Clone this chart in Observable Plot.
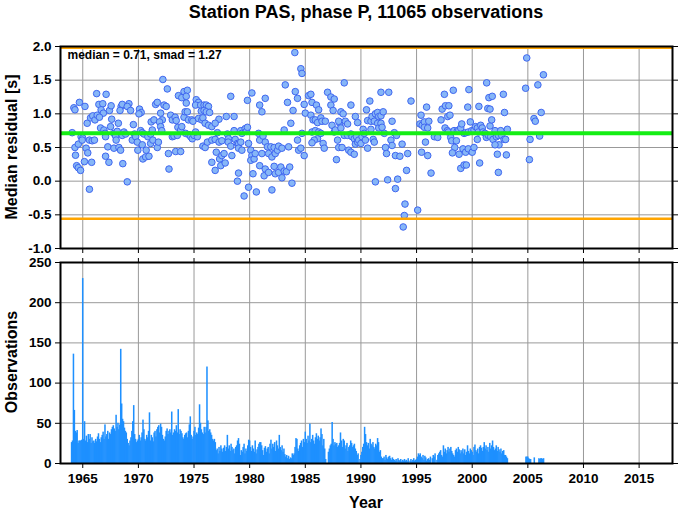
<!DOCTYPE html>
<html><head><meta charset="utf-8">
<script src="https://cdn.jsdelivr.net/npm/d3@7"></script>
<script src="https://cdn.jsdelivr.net/npm/@observablehq/plot@0.6"></script>
<style>
body{margin:0;background:#fff;}
#chart{position:relative;width:678px;height:511px;font-family:"Liberation Sans",Arial,sans-serif;font-weight:bold;color:#000;overflow:hidden;}
#chart svg{position:absolute;left:0;}
.lbl{position:absolute;white-space:nowrap;transform:translate(-50%,-50%);font-weight:bold;}
.rot{transform:translate(-50%,-50%) rotate(-90deg);}
</style></head><body><div id="chart"></div>
<script>
const titleText = "Station PAS, phase P, 11065 observations";
const statsText = "median = 0.71, smad = 1.27";
const yTitleTop = "Median residual [s]";
const yTitleBottom = "Observations";
const xTitle = "Year";
const median = 0.71, smad = 1.27;
const xDomain = [1963, 2018];
const xTicks = [1965, 1970, 1975, 1980, 1985, 1990, 1995, 2000, 2005, 2010, 2015];
const residualTicks = [-1, -0.5, 0, 0.5, 1, 1.5, 2];
const obsTicks = [0, 50, 100, 150, 200, 250];
const obsStartYear = 1964;
const monthlyObs = [
 26,28,136,66,40,38,41,25,28,28,28,29,
 230,30,52,28,34,26,36,30,36,25,32,27,
 28,25,30,27,33,37,30,26,32,35,39,30,
 48,33,36,40,30,38,36,42,45,47,43,40,
 60,45,50,42,48,142,74,55,52,44,40,38,
 30,25,22,28,32,40,52,72,36,30,26,28,
 30,35,28,32,38,54,42,30,28,35,32,40,
 63,28,35,32,27,38,40,33,42,45,47,38,
 49,45,35,30,28,33,40,43,36,40,42,38,
 64,35,38,42,40,47,38,67,36,42,40,37,
 32,30,35,37,38,32,40,48,58,35,30,33,
 40,45,35,38,36,44,73,50,42,38,36,45,
 38,45,120,53,40,42,38,35,30,28,30,26,
 16,18,12,20,15,22,18,14,19,22,15,20,
 35,18,22,15,24,20,16,18,12,20,22,28,
 31,24,10,16,14,20,24,12,18,15,22,29,
 28,20,15,22,18,14,28,12,17,20,24,26,
 26,22,16,10,19,21,14,18,20,12,24,29,
 18,24,20,26,15,28,22,18,35,20,16,22,
 14,18,11,8,10,6,9,5,7,6,12,10,
 12,20,31,30,18,15,22,25,28,20,30,26,
 39,30,25,34,28,49,26,30,35,28,24,32,
 37,30,34,28,32,43,36,22,30,18,5,0,
 0,14,18,22,24,51,30,22,26,24,25,20,
 22,25,38,28,20,30,28,18,22,25,15,20,
 22,28,25,20,22,24,18,15,10,12,0,5,
 10,14,20,24,45,36,26,22,25,18,30,24,
 22,26,20,18,24,22,31,26,14,16,8,6,
 6,8,4,10,7,5,8,9,6,4,7,5,
 4,3,5,2,6,4,3,5,2,4,3,5,
 3,4,2,6,0,3,5,2,4,6,3,4,
 5,8,12,10,12,8,6,10,4,9,7,3,
 5,6,4,8,0,6,10,8,12,0,4,10,
 12,14,16,10,8,22,14,18,12,16,20,14,
 18,20,15,12,10,8,16,18,14,20,17,12,
 16,14,18,12,17,10,14,22,15,12,18,16,
 14,10,20,23,16,14,18,12,20,22,19,15,
 20,26,18,22,16,20,14,25,18,22,28,20,
 16,18,22,15,20,17,14,18,12,15,16,10,
 10,8,6,0,0,0,0,0,0,0,0,0,
 0,0,0,0,0,0,0,0,0,0,8,8,
 8,6,5,5,0,0,0,7,0,0,0,0,
 6,5,6,6,5,6,0,0,0,0,0,0
];
const residualPoints = [
[1964.2,1.09],[1964.3,1.06],[1964.7,1.17],[1965.2,1.11],[1964.05,0.72],[1964.3,0.50],[1964.6,0.55],[1964.35,0.385],[1964.45,0.23],[1964.6,0.20],[1964.8,0.16],[1964.85,0.66],[1965.0,0.64],[1964.95,0.61],[1965.15,0.29],[1965.3,0.49],[1965.45,0.42],[1965.6,-0.12],[1965.4,0.86],[1965.7,0.94],[1965.9,0.97],[1966.1,0.91],[1965.6,0.61],[1965.85,0.60],[1966.05,0.61],[1965.8,0.28],[1966.25,1.30],[1967.1,1.29],[1966.45,1.14],[1966.8,1.15],[1966.65,1.06],[1966.85,1.01],[1966.3,0.98],[1966.5,0.95],[1966.6,0.79],[1966.9,0.76],[1967.0,0.71],[1967.05,0.66],[1967.25,0.51],[1967.05,0.37],[1967.35,0.28],[1967.4,1.05],[1967.55,1.12],[1967.6,0.92],[1967.5,0.81],[1967.8,0.71],[1968.1,0.74],[1967.95,0.67],[1968.0,0.61],[1967.8,0.49],[1968.25,0.50],[1968.4,0.46],[1968.2,0.86],[1968.45,1.11],[1968.55,1.14],[1968.35,1.05],[1968.7,0.73],[1968.55,0.68],[1968.85,0.70],[1968.6,0.26],[1969.0,-0.01],[1969.15,1.15],[1969.0,1.11],[1969.3,1.05],[1969.55,0.84],[1969.65,0.70],[1969.45,0.61],[1969.75,0.66],[1969.9,0.58],[1969.95,0.46],[1970.1,1.07],[1970.25,1.02],[1970.05,1.00],[1970.2,0.75],[1970.35,0.72],[1970.5,0.70],[1970.35,0.54],[1970.7,0.46],[1970.4,0.33],[1970.65,0.36],[1970.95,0.37],[1970.85,0.66],[1971.1,0.70],[1971.25,0.76],[1971.15,0.88],[1971.4,0.91],[1971.1,0.56],[1971.3,0.61],[1971.7,0.50],[1971.8,0.58],[1971.55,1.14],[1971.7,1.17],[1972.0,1.01],[1972.15,0.91],[1972.3,1.13],[1972.5,1.11],[1972.2,1.51],[1972.6,1.37],[1971.9,0.88],[1972.0,0.81],[1972.1,0.75],[1972.7,0.41],[1972.75,0.18],[1972.9,0.98],[1973.05,0.91],[1973.3,0.95],[1973.4,0.90],[1973.55,0.80],[1973.05,0.66],[1973.2,0.67],[1973.5,0.68],[1973.35,0.44],[1973.8,0.44],[1973.6,1.27],[1973.9,1.24],[1974.1,1.33],[1973.8,0.76],[1973.9,0.81],[1974.1,0.95],[1974.2,1.03],
[1974.4,1.35],[1974.3,1.26],[1974.3,1.16],[1974.4,1.03],[1974.5,0.91],[1974.8,0.91],[1974.9,0.89],[1974.24,0.71],[1974.54,0.69],[1974.7,0.66],[1974.84,0.63],[1975.0,0.68],[1975.3,0.66],[1975.14,0.73],[1975.2,1.21],[1975.4,1.17],[1975.14,1.13],[1975.6,1.13],[1975.9,1.13],[1976.1,1.13],[1976.3,1.11],[1975.65,1.04],[1975.9,1.05],[1976.1,1.03],[1976.4,1.02],[1975.4,0.93],[1975.7,0.91],[1975.8,0.94],[1976.0,0.86],[1976.3,0.83],[1976.6,0.81],[1975.8,0.52],[1976.0,0.50],[1976.2,0.58],[1976.6,0.61],[1976.9,0.62],[1977.1,0.72],[1977.25,0.58],[1977.5,0.60],[1976.6,0.28],[1976.9,0.16],[1977.0,0.43],[1977.3,0.33],[1977.4,0.23],[1977.5,0.38],[1977.7,0.41],[1977.8,0.27],[1977.24,0.92],[1976.9,0.86],[1977.9,0.96],[1978.6,0.96],[1978.0,0.70],[1978.1,0.63],[1978.07,0.58],[1978.3,0.52],[1978.4,0.38],[1978.6,0.75],[1978.7,0.62],[1978.9,0.56],[1979.0,0.55],[1979.2,0.58],[1979.0,0.49],[1978.3,1.26],[1979.0,0.12],[1978.9,0.0],[1979.3,0.46],[1979.2,0.75],[1979.3,0.71],[1979.6,0.78],[1979.7,0.74],[1979.8,0.80],[1979.5,-0.22],[1979.9,-0.09],[1980.6,-0.16],[1979.8,1.20],[1980.2,1.31],[1980.9,1.13],[1981.1,1.03],[1981.4,1.23],[1979.9,0.56],[1980.1,0.46],[1980.2,0.38],[1980.1,0.31],[1980.4,0.33],[1980.5,0.41],[1980.8,0.71],[1980.9,0.61],[1981.1,0.41],[1981.2,0.67],[1981.4,0.58],[1981.6,0.51],[1981.7,0.41],[1981.9,0.51],[1982.0,0.36],[1982.2,0.50],[1980.3,0.11],[1980.9,0.23],[1981.4,0.18],[1981.3,0.08],[1981.7,0.13],[1982.0,-0.13],[1982.3,0.41],[1982.5,0.46],[1982.6,0.52],[1982.9,0.49],[1983.5,0.51],[1982.2,0.22],[1982.3,0.11],[1982.6,0.13],[1982.8,0.21],[1982.9,0.05],[1983.1,0.15],[1983.3,0.14],[1983.6,0.21],[1983.8,-0.03],[1983.1,0.76],[1983.7,0.86],[1983.2,1.43],[1983.4,1.17],[1983.9,1.05],[1984.1,1.33],[1984.3,1.23],[1984.06,1.91],[1984.6,1.67],[1984.7,1.60],[1984.3,0.61],[1984.4,0.46],[1984.6,0.49],[1984.9,0.38],[1984.7,0.71],[1984.9,1.14],[1985.0,1.01],[1985.3,1.27],[1985.5,0.98],
[1985.5,1.29],[1985.6,1.17],[1986.0,1.13],[1986.2,1.06],[1985.7,0.91],[1985.9,0.91],[1986.1,0.87],[1986.4,0.94],[1986.5,0.89],[1986.8,0.89],[1985.6,0.73],[1985.9,0.75],[1986.2,0.73],[1986.1,0.63],[1985.8,0.61],[1985.6,0.57],[1986.6,0.56],[1986.7,0.49],[1986.4,0.71],[1987.0,1.32],[1987.3,1.25],[1987.6,1.22],[1987.3,1.13],[1987.5,1.05],[1988.2,1.03],[1988.4,1.00],[1988.5,1.46],[1987.4,0.83],[1987.6,0.73],[1987.7,0.76],[1987.9,0.61],[1988.1,0.86],[1988.0,0.89],[1988.2,0.79],[1988.6,0.89],[1988.8,0.85],[1987.8,0.32],[1988.0,0.50],[1988.3,0.50],[1988.5,0.68],[1988.9,0.46],[1989.1,0.43],[1989.4,0.40],[1988.8,0.68],[1989.1,1.13],[1989.5,0.96],[1989.7,0.87],[1989.1,0.70],[1989.2,0.66],[1989.4,0.63],[1989.6,0.66],[1989.5,0.55],[1989.7,0.58],[1989.8,0.61],[1990.0,0.56],[1990.1,0.66],[1990.2,0.77],[1990.3,0.71],[1990.4,0.61],[1990.6,0.49],[1990.5,1.06],[1990.8,1.19],[1990.6,0.90],[1990.9,0.89],[1991.0,0.96],[1991.2,0.89],[1991.3,1.00],[1991.5,1.02],[1991.6,0.96],[1991.8,0.97],[1992.0,1.03],[1991.8,1.32],[1992.5,1.32],[1990.9,0.77],[1991.1,0.62],[1991.2,0.58],[1991.5,0.86],[1991.6,0.79],[1991.8,0.86],[1991.9,0.80],[1992.1,0.71],[1991.3,-0.01],[1992.2,0.50],[1992.3,0.41],[1992.4,0.02],[1992.7,0.61],[1992.8,0.89],[1992.8,0.53],[1993.0,0.72],[1993.1,0.38],[1993.2,0.68],[1993.1,-0.11],[1993.3,0.03],[1993.5,0.37],[1993.7,0.55],[1994.2,0.41],[1994.1,0.16],[1993.96,-0.34],[1993.9,-0.51],[1993.8,-0.68],[1994.5,1.19],[1995.1,-0.43],[1995.4,0.98],[1995.3,0.85],[1995.5,0.83],[1995.7,0.88],[1995.7,0.80],[1995.9,1.10],[1996.0,0.79],[1996.1,0.89],[1995.45,0.43],[1995.8,0.58],[1996.0,0.38],[1996.3,0.12],[1996.6,0.66],
[1997.5,1.29],[1998.3,1.35],[1999.7,1.36],[2001.3,1.46],[2001.5,1.24],[2001.8,1.26],[2002.8,1.29],[1997.3,1.07],[1997.6,1.12],[1997.9,1.12],[1997.8,0.96],[1998.0,0.98],[1997.2,0.91],[1999.6,1.10],[2000.6,1.11],[2001.4,1.08],[2001.6,1.07],[2002.9,1.02],
[1996.9,0.65],[1997.56,0.79],[1997.77,0.75],[1997.86,0.73],[1998.07,0.65],[1998.16,0.60],[1998.37,0.75],[1998.58,0.60],[1998.67,0.75],[1998.8,0.76],[1998.97,0.79],[1999.06,0.85],[1999.27,0.71],[1999.42,0.72],[1999.65,0.73],[1999.83,0.88],[1999.95,0.75],[2000.16,0.76],[2000.3,0.81],[2000.46,0.79],[2000.55,0.73],[2000.76,0.83],[2000.9,0.79],[2000.97,0.73],[2001.15,0.71],[2001.27,0.65],[2001.45,0.68],[2001.6,0.82],[2001.75,0.91],[2001.66,0.66],[2001.87,0.62],[2002.05,0.75],[2002.17,0.66],[2002.35,0.68],[2002.56,0.75],[2002.65,0.68],[2002.86,0.62],[2003.0,0.62],[2003.16,0.77],
[1998.43,0.50],[1998.22,0.42],[1998.82,0.40],[1999.17,0.48],[1999.41,0.43],[1999.65,0.48],[2000.0,0.43],[2000.16,0.50],[2000.46,0.62],[2000.67,0.27],[2002.26,0.40],[2003.07,0.39],[2002.41,0.54],[2002.05,0.54],[1998.97,0.19],[1999.27,0.24],[1999.47,0.24],[2002.35,0.13],
[2004.9,1.83],[2006.4,1.58],[2004.8,1.38],[2005.9,1.43],[2006.2,1.02],[2005.55,0.93],[2005.67,0.89],[2006.06,0.67],[2005.2,0.62],[2005.14,0.32]
];

const W = 678, ML = 60, MR = 6;
const baseStyle = {fontFamily: "'Liberation Sans', Arial, sans-serif", fontSize: "13.5px", fontWeight: "bold", color: "#000", background: "transparent", overflow: "visible"};
const gridStyle = {stroke: "#999", strokeOpacity: 1, strokeWidth: 1};
const blank = () => "";

const topPlot = Plot.plot({
  width: W, height: 256, marginLeft: ML, marginRight: MR, marginTop: 46, marginBottom: 8,
  style: baseStyle,
  x: {domain: xDomain}, y: {domain: [-1, 2]},
  marks: [
    Plot.gridX(xTicks, gridStyle),
    Plot.gridY(residualTicks, gridStyle),
    Plot.dot(residualPoints, {x: d => d[0], y: d => d[1], r: 3.3, fill: "#86b6f7", stroke: "#3f66f0", strokeWidth: 1}),
    Plot.ruleY([median + smad, median - smad], {stroke: "#ffa500", strokeWidth: 2.5}),
    Plot.ruleY([median], {stroke: "#14ee14", strokeWidth: 4}),
    Plot.axisY(residualTicks, {anchor: "left", tickSize: 5, tickPadding: 4, tickFormat: d => d.toFixed(1), label: null}),
    Plot.axisY(residualTicks, {anchor: "right", tickSize: 5, tickFormat: blank, label: null}),
    Plot.axisX(xTicks, {anchor: "bottom", tickSize: 5, tickFormat: blank, label: null}),
    Plot.text([statsText], {frameAnchor: "top-left", dx: 7, dy: 4, lineAnchor: "top", textAnchor: "start", fontSize: 12, fontWeight: "bold"}),
    Plot.frame({stroke: "#000", strokeWidth: 2})
  ]
});

const bars = monthlyObs.map((n, i) => ({x1: obsStartYear + i / 12, x2: obsStartYear + (i + 1) / 12, n}));
const bottomPlot = Plot.plot({
  width: W, height: 256, marginLeft: ML, marginRight: MR, marginTop: 7, marginBottom: 48,
  style: baseStyle,
  x: {domain: xDomain}, y: {domain: [0, 250]},
  marks: [
    Plot.gridX(xTicks, gridStyle),
    Plot.gridY(obsTicks, gridStyle),
    Plot.rect(bars, {x1: "x1", x2: "x2", y1: 0, y2: "n", fill: "#1e90ff", insetLeft: -0.3, insetRight: -0.3}),
    Plot.axisY(obsTicks, {anchor: "left", tickSize: 5, tickPadding: 4, label: null}),
    Plot.axisY(obsTicks, {anchor: "right", tickSize: 5, tickFormat: blank, label: null}),
    Plot.axisX(xTicks, {anchor: "top", tickSize: 5, tickFormat: blank, label: null}),
    Plot.axisX(xTicks, {anchor: "bottom", tickSize: 5, tickPadding: 5, tickFormat: d => String(d), label: null}),
    Plot.frame({stroke: "#000", strokeWidth: 2})
  ]
});

const chart = document.getElementById("chart");
topPlot.style.top = "0px";
bottomPlot.style.top = "255px";
chart.appendChild(topPlot);
chart.appendChild(bottomPlot);

function addLabel(text, x, y, size, rotate) {
  const d = document.createElement("div");
  d.className = "lbl" + (rotate ? " rot" : "");
  d.textContent = text;
  d.style.left = x + "px";
  d.style.top = y + "px";
  d.style.fontSize = size + "px";
  chart.appendChild(d);
}
addLabel(titleText, 366, 12, 18, false);
addLabel(yTitleTop, 12, 147, 16, true);
addLabel(yTitleBottom, 12, 362, 16, true);
addLabel(xTitle, 366, 503, 16, false);
</script></body></html>
